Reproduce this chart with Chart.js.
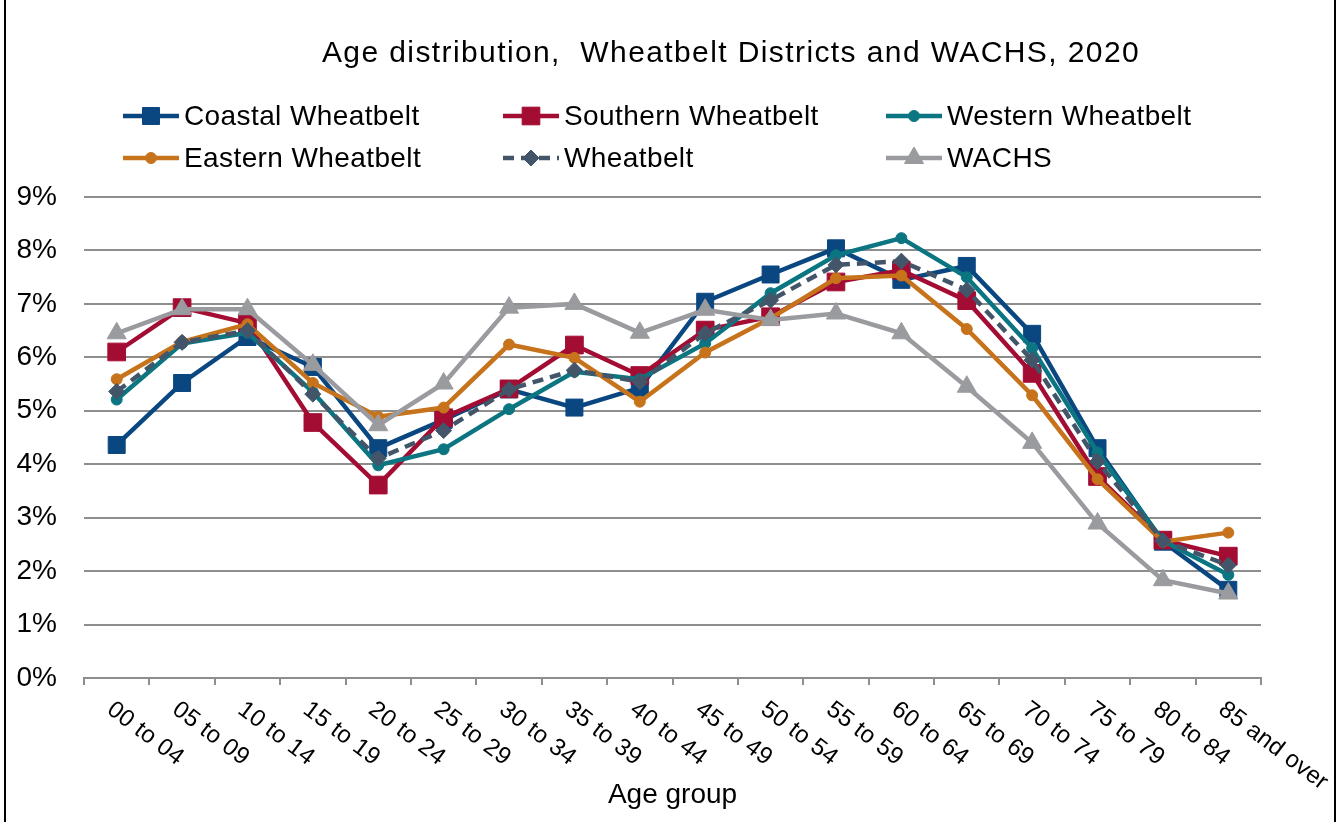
<!DOCTYPE html>
<html>
<head>
<meta charset="utf-8">
<script src="https://cdn.jsdelivr.net/npm/chart.js@4.4.1/dist/chart.umd.min.js"></script>
<style>
html,body{margin:0;padding:0;background:#fff;}
#wrap{width:1340px;height:822px;position:relative;}
</style>
</head>
<body>
<div id="wrap"><canvas id="c" width="1340" height="822"></canvas></div>
<script>
const chartTitle = 'Age distribution,  Wheatbelt Districts and WACHS, 2020';
const xAxisTitle = 'Age group';
const categories = ['00 to 04','05 to 09','10 to 14','15 to 19','20 to 24','25 to 29','30 to 34','35 to 39','40 to 44','45 to 49','50 to 54','55 to 59','60 to 64','65 to 69','70 to 74','75 to 79','80 to 84','85 and over'];
const seriesNames = ['Coastal Wheatbelt','Southern Wheatbelt','Western Wheatbelt','Eastern Wheatbelt','Wheatbelt','WACHS'];
const coastal   = [4.36,5.52,6.38,5.82,4.30,4.83,5.40,5.06,5.43,7.04,7.55,8.04,7.45,7.71,6.44,4.30,2.55,1.65];
const southern  = [6.10,6.93,6.64,4.78,3.61,4.87,5.41,6.23,5.66,6.51,6.76,7.41,7.63,7.06,5.70,3.77,2.58,2.28];
const western   = [5.21,6.26,6.46,5.35,3.98,4.28,5.03,5.73,5.59,6.26,7.20,7.91,8.23,7.50,6.17,4.22,2.57,1.93];
const eastern   = [5.59,6.29,6.62,5.52,4.89,5.06,6.24,5.99,5.17,6.09,6.73,7.48,7.53,6.53,5.29,3.72,2.55,2.72];
const wheatbelt = [5.36,6.28,6.50,5.31,4.11,4.63,5.40,5.76,5.54,6.45,7.07,7.73,7.80,7.26,5.95,4.05,2.57,2.11];
const wachs     = [6.45,6.90,6.90,5.86,4.73,5.51,6.93,7.00,6.46,6.89,6.70,6.82,6.45,5.45,4.40,2.89,1.83,1.58];
const yTickValues = [0,1,2,3,4,5,6,7,8,9];

const FONT = '"Liberation Sans", Arial, Helvetica, sans-serif';

function ds(label, data, color, style, radius, order, dash){
  return {
    label, data,
    borderColor: color, backgroundColor: color,
    borderWidth: 4.5, borderDash: dash || [],
    pointStyle: style, pointRadius: radius, pointHoverRadius: radius,
    pointBackgroundColor: color, pointBorderColor: color, pointBorderWidth: 1,
    tension: 0, fill: false, order
  };
}

const datasets = [
  ds(seriesNames[0], coastal,   '#0A4780', 'rect',     12,   6),
  ds(seriesNames[1], southern,  '#A30D33', 'rect',     12.5, 5),
  ds(seriesNames[2], western,   '#0B7582', 'circle',   5.5,  4),
  ds(seriesNames[3], eastern,   '#C7731B', 'circle',   5.5,  3),
  ds(seriesNames[4], wheatbelt, '#435569', 'rectRot',  8,    2, [11,7]),
  ds(seriesNames[5], wachs,     '#9A9B9F', 'triangle', 11,   1)
];

const decor = {
  id: 'decor',
  afterDraw(chart){
    const ctx = chart.ctx;
    ctx.save();
    // frame
    ctx.strokeStyle = '#000'; ctx.lineWidth = 2; ctx.setLineDash([]);
    ctx.beginPath(); ctx.moveTo(5,0); ctx.lineTo(5,822); ctx.moveTo(1335,0); ctx.lineTo(1335,822); ctx.stroke();
    // title
    ctx.fillStyle = '#000';
    ctx.font = '30px ' + FONT;
    try { ctx.letterSpacing = '1.4px'; } catch(e){}
    ctx.textAlign = 'center'; ctx.textBaseline = 'middle';
    ctx.fillText(chartTitle, 731, 54);
    try { ctx.letterSpacing = '0.4px'; } catch(e){}
    // legend
    const colX = [123, 503, 886];
    const rowY = [116, 158];
    ctx.font = '28px ' + FONT;
    ctx.textAlign = 'left';
    chart.data.datasets.forEach((d, i) => {
      const x0 = colX[i % 3], y = rowY[Math.floor(i / 3)];
      ctx.strokeStyle = d.borderColor; ctx.lineWidth = d.borderWidth;
      ctx.setLineDash(d.borderDash || []);
      ctx.beginPath(); ctx.moveTo(x0, y); ctx.lineTo(x0 + 56, y); ctx.stroke();
      ctx.setLineDash([]);
      ctx.fillStyle = d.pointBackgroundColor; ctx.strokeStyle = d.pointBorderColor; ctx.lineWidth = 1;
      Chart.helpers.drawPoint(ctx, {pointStyle: d.pointStyle, radius: d.pointRadius, borderWidth: 1, rotation: 0}, x0 + 28, y);
      ctx.fillStyle = '#000';
      ctx.fillText(d.label, x0 + 61, y + 1);
    });
    // rotated category labels
    try { ctx.letterSpacing = '0.3px'; } catch(e){}
    const xs = chart.scales.x;
    ctx.font = '24px ' + FONT;
    ctx.fillStyle = '#000';
    ctx.textAlign = 'left'; ctx.textBaseline = 'middle';
    chart.data.labels.forEach((lab, i) => {
      const px = xs.getPixelForValue(i);
      ctx.save();
      ctx.translate(px - 7, 707);
      ctx.rotate(37 * Math.PI / 180);
      ctx.fillText(lab, 0, 0);
      ctx.restore();
    });
    ctx.restore();
  }
};

new Chart(document.getElementById('c'), {
  type: 'line',
  data: { labels: categories, datasets },
  plugins: [decor],
  options: {
    responsive: false,
    animation: false,
    events: [],
    layout: { padding: { top: 197, left: 0, right: 79, bottom: 0 } },
    plugins: { legend: { display: false }, title: { display: false }, tooltip: { enabled: false } },
    scales: {
      x: {
        offset: true,
        grid: { offset: true, drawOnChartArea: false, drawTicks: true, tickLength: 7, color: '#8e8e8e', lineWidth: 2 },
        border: { display: true, color: '#8e8e8e', width: 2 },
        ticks: { display: false },
        title: { display: true, text: xAxisTitle, color: '#000', font: { size: 28, family: FONT }, padding: { top: 0, bottom: 10 } },
        afterFit(s){ s.height = 144; }
      },
      y: {
        min: 0, max: 9,
        afterBuildTicks(s){ s.ticks = yTickValues.map(v => ({ value: v })); },
        ticks: { callback: v => v + '%', color: '#000', font: { size: 28, family: FONT }, padding: 27 },
        grid: { color: '#8e8e8e', lineWidth: 2, drawTicks: false },
        border: { display: false },
        afterFit(s){ s.width = 84; }
      }
    }
  }
});
</script>
</body>
</html>
